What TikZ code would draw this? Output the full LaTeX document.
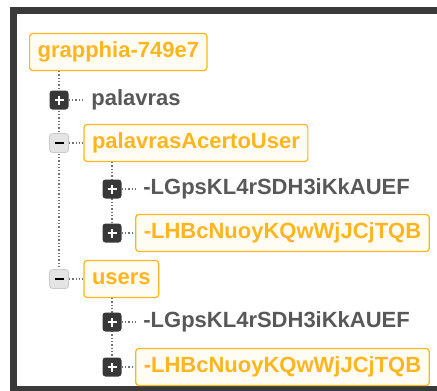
\documentclass[tikz,border=0pt]{standalone}
\usepackage{fontspec}
\setmainfont{Liberation Sans}
\usetikzlibrary{positioning,backgrounds}

\definecolor{amber}{HTML}{FFB51E}
\definecolor{amberbg}{HTML}{FFFCF4}
\definecolor{keygray}{HTML}{585858}
\definecolor{icondark}{HTML}{383838}
\definecolor{iconlight}{HTML}{E4E4E4}
\definecolor{iconedge}{HTML}{CACACA}
\definecolor{framegray}{HTML}{3A3A3A}
\definecolor{linegray}{HTML}{707070}

\tikzset{
  key/.style={font=\fontsize{22}{22}\selectfont\bfseries, text=keygray, anchor=west,
    inner xsep=8pt, inner ysep=0pt, minimum height=37pt,
    text height=15.5pt, text depth=4.5pt},
  hit/.style={key, text=amber, draw=amber, fill=amberbg,
    line width=1.2pt, rounded corners=3pt},
  expander/.style={minimum size=19pt, inner sep=0pt, rounded corners=3pt},
  plusbox/.style={expander, fill=icondark,
    path picture={\draw[white, line width=2.8pt]
      ([xshift=-4.5pt]path picture bounding box.center) -- ([xshift=4.5pt]path picture bounding box.center)
      ([yshift=-4.5pt]path picture bounding box.center) -- ([yshift=4.5pt]path picture bounding box.center);}},
  minusbox/.style={expander, fill=iconlight, draw=iconedge, line width=0.8pt,
    path picture={\draw[black, line width=2.8pt]
      ([xshift=-4.5pt]path picture bounding box.center) -- ([xshift=4.5pt]path picture bounding box.center);}},
  link/.style={draw=linegray, line width=1.3pt, dotted},
}

\begin{document}
\begin{tikzpicture}[x=1pt,y=-1pt]
\useasboundingbox (0,0) rectangle (437,391);

% root
\node[hit] (root) at (29,52) {grapphia-749e7};

% first level
\node[plusbox]  (palavrasBtn) at (59,100) {};
\node[key, right=14.5pt of palavrasBtn.east] (palavras) {palavras};
\node[minusbox] (acertoBtn) at (59,143) {};
\node[hit, right=14.5pt of acertoBtn.east] (acerto) {palavrasAcertoUser};
\node[minusbox] (usersBtn) at (59,279) {};
\node[hit, right=14.5pt of usersBtn.east] (users) {users};

% children of palavrasAcertoUser
\node[plusbox] (acertoABtn) at (112,189) {};
\node[key, right=13.5pt of acertoABtn.east] (acertoA) {-LGpsKL4rSDH3iKkAUEF};
\node[plusbox] (acertoBBtn) at (112,233) {};
\node[hit, right=13.5pt of acertoBBtn.east] (acertoB) {-LHBcNuoyKQwWjJCjTQB};

% children of users
\node[plusbox] (usersABtn) at (112,322) {};
\node[key, right=13.5pt of usersABtn.east] (usersA) {-LGpsKL4rSDH3iKkAUEF};
\node[plusbox] (usersBBtn) at (112,367) {};
\node[hit, right=13.5pt of usersBBtn.east] (usersB) {-LHBcNuoyKQwWjJCjTQB};

\begin{scope}[on background layer]
% window frame
\fill[framegray] (10,7) rectangle (437,391);
\fill[white] (17,14) rectangle (437,386);
% dotted tree lines
\draw[link] (palavrasBtn |- root.south) -- (usersBtn);
\draw[link] (acertoABtn |- acerto.south) -- (acertoBBtn);
\draw[link] (usersABtn |- users.south) -- (usersBBtn);
\foreach \b/\t in {palavrasBtn/palavras, acertoBtn/acerto, usersBtn/users,
                   acertoABtn/acertoA, acertoBBtn/acertoB,
                   usersABtn/usersA, usersBBtn/usersB}
  \draw[link] (\b) -- (\t);
\end{scope}
\end{tikzpicture}
\end{document}
